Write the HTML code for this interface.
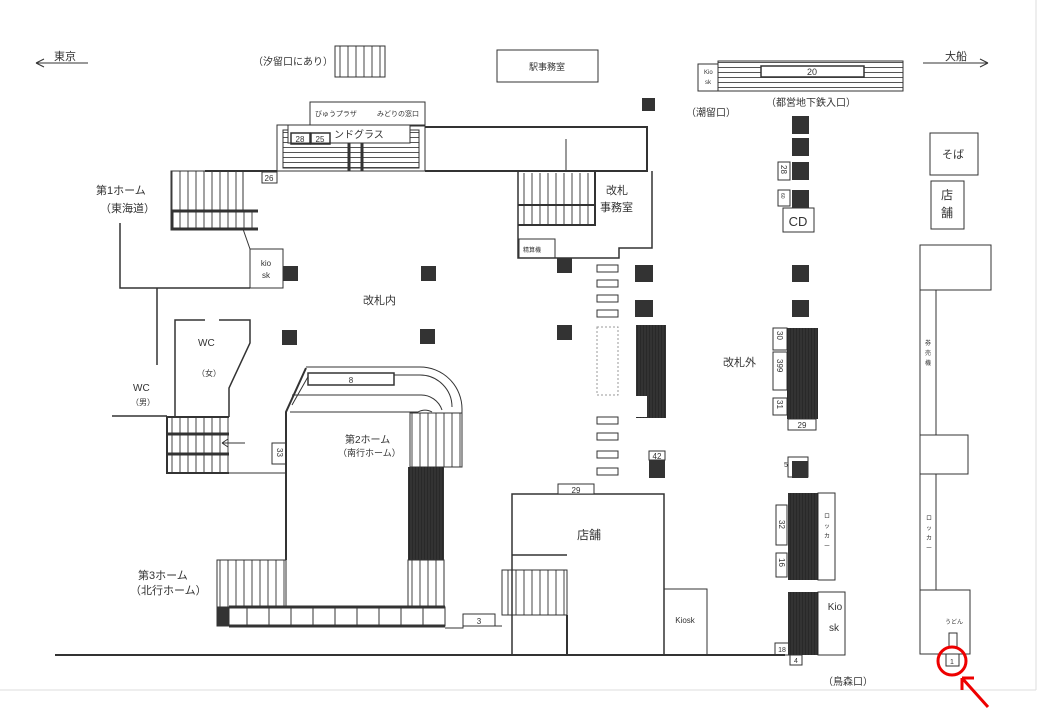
<!DOCTYPE html>
<html><head><meta charset="utf-8"><style>
html,body{margin:0;padding:0;background:#fff}
svg{display:block}
text{font-family:"Liberation Sans","Noto Sans CJK JP",sans-serif;fill:#333}
</style></head><body>
<svg width="1040" height="720" viewBox="0 0 1040 720" xmlns="http://www.w3.org/2000/svg">
<defs>
<pattern id="vl" width="8" height="10" patternUnits="userSpaceOnUse"><line x1="4" y1="0" x2="4" y2="10" stroke="#444" stroke-width="1"/></pattern>
<pattern id="hl" width="10" height="5" patternUnits="userSpaceOnUse"><line x1="0" y1="2.5" x2="10" y2="2.5" stroke="#555" stroke-width="1"/></pattern>
<pattern id="blk" width="3" height="10" patternUnits="userSpaceOnUse"><rect width="3" height="10" fill="#333"/><line x1="1.5" y1="0" x2="1.5" y2="10" stroke="#222" stroke-width="0.6"/></pattern>
</defs>
<rect width="1040" height="720" fill="#fff"/>
<line x1="0" y1="690" x2="1036" y2="690" stroke="#ddd"/>
<line x1="1036" y1="0" x2="1036" y2="690" stroke="#ddd"/>
<g fill="none" stroke="#333" stroke-width="1">
<!-- arrows -->
<path d="M36 63 H88 M36 63 l8 -4 M36 63 l8 4"/>
<path d="M923 63 H988 M988 63 l-8 -4 M988 63 l-8 4"/>
<!-- 汐留 stairs -->
<rect x="335" y="46" width="50" height="31" fill="url(#vl)"/>
<rect x="497" y="50" width="101" height="32"/>
<!-- 都営 -->
<rect x="698" y="64" width="20" height="27"/>
<rect x="718" y="61" width="185" height="30" fill="url(#hl)"/>
<rect x="761" y="66" width="103" height="11" fill="#fff" stroke-width="1.5"/>
<!-- top structure -->
<rect x="310" y="102" width="115" height="24"/>
<path d="M425 127 H647 V171 H425" stroke-width="2"/>
<line x1="566" y1="139" x2="566" y2="171"/>
<rect x="277" y="125" width="148" height="46"/>
<rect x="283" y="130" width="136" height="38" fill="url(#hl)"/>
<rect x="288" y="125" width="122" height="18" fill="#fff"/>
<rect x="291" y="133" width="19" height="11" stroke-width="1.5"/>
<rect x="311" y="133" width="19" height="11" stroke-width="1.5"/>
<path d="M349 143 V171 M362 143 V171" stroke-width="3"/>
<path d="M205 171 H277" stroke-width="2"/>
<rect x="262" y="172" width="15" height="11"/>
<!-- 1 home stairs -->
<rect x="171" y="171" width="72" height="39" fill="url(#vl)"/>
<rect x="172" y="212" width="84" height="16" fill="url(#vl)" stroke="none"/>
<path d="M258 211 H172 V229 H258" stroke-width="3"/>
<path d="M243 229 L250 249"/>
<rect x="250" y="249" width="33" height="39"/>
<path d="M120 223 V288 H250" stroke-width="1.5"/>
<path d="M157 288 V365" stroke-width="1.5"/>
<!-- WC -->
<path d="M175 417 V320 H205 M219 320 H250 V343 L229 388 V417" stroke-width="1.5"/>
<path d="M112 416 H167" stroke-width="1.5"/>
<rect x="168" y="418" width="61" height="55" fill="url(#vl)" stroke="none"/>
<path d="M229 417 H167 V473 H229" stroke-width="2"/>
<path d="M167 434 H229 M167 454 H229" stroke-width="3"/>
<path d="M245 443 H222 M222 443 l6 -4 M222 443 l6 4"/>
<path d="M229 473 H286"/>
<rect x="272" y="443" width="14" height="21"/>
<!-- platform 2 -->
<path d="M286 560 V412 L306 368" stroke-width="2"/>
<path d="M306 367 H420 A42 42 0 0 1 462 409 V467" />
<path d="M292 405 L309 375 H420 A32 32 0 0 1 452 407" />
<path d="M292 395 H420 A22 22 0 0 1 442 410"/>
<path d="M290 412 H418 A14 14 0 0 1 432 412"/>
<rect x="308" y="373" width="86" height="12" fill="#fff" stroke-width="1.5"/>
<rect x="410" y="413" width="52" height="54" fill="url(#vl)"/>
<rect x="408" y="467" width="36" height="93" fill="url(#blk)" stroke="none"/>
<rect x="408" y="560" width="36" height="47" fill="url(#vl)"/>
<!-- platform 3 -->
<rect x="217" y="560" width="69" height="47" fill="url(#vl)"/>
<rect x="217" y="607" width="228" height="19"/>
<rect x="217" y="607" width="12" height="19" fill="#333"/>
<path d="M229 607 H445 M229 626 H445" stroke-width="3"/>
<path d="M247 607V626 M269 607V626 M291 607V626 M313 607V626 M335 607V626 M357 607V626 M379 607V626 M401 607V626 M423 607V626"/>
<path d="M445 628 H463 V614 H495 V626 H502"/>
<line x1="463" y1="626" x2="495" y2="626"/>
<line x1="55" y1="655" x2="785" y2="655" stroke-width="2"/>
<!-- 改札事務室 -->
<rect x="518" y="173" width="77" height="52" fill="url(#vl)" stroke="none"/>
<path d="M518 171 V258 H619 V248 H652 V171" stroke-width="1.5"/>
<path d="M595 171 V225 H518 M518 205 H595" stroke-width="2"/>
<rect x="519" y="239" width="36" height="19"/>
<!-- gates -->
<rect x="597" y="265" width="21" height="7"/><rect x="597" y="280" width="21" height="7"/>
<rect x="597" y="295" width="21" height="7"/><rect x="597" y="310" width="21" height="7"/>
<rect x="597" y="327" width="21" height="68" stroke-dasharray="2,2" stroke="#999"/>
<rect x="597" y="417" width="21" height="7"/><rect x="597" y="433" width="21" height="7"/>
<rect x="597" y="451" width="21" height="7"/><rect x="597" y="468" width="21" height="7"/>
<!-- store -->
<rect x="512" y="494" width="152" height="161" stroke-width="1.5"/>
<rect x="558" y="484" width="36" height="10" fill="#fff"/>
<path d="M512 555 H567" stroke-width="1.5"/>
<rect x="502" y="570" width="65" height="45" fill="url(#vl)"/>
<path d="M567 615 V655" stroke-width="2"/>
<rect x="664" y="589" width="43" height="66"/>
<!-- right col2 -->
<rect x="778" y="162" width="12" height="18"/>
<rect x="778" y="190" width="12" height="16"/>
<rect x="783" y="208" width="31" height="24"/>
<rect x="773" y="328" width="14" height="22"/>
<rect x="773" y="352" width="14" height="38"/>
<rect x="773" y="398" width="14" height="17"/>
<rect x="788" y="419" width="28" height="11"/>
<rect x="788" y="457" width="20" height="20"/>
<rect x="818" y="493" width="17" height="87"/>
<rect x="776" y="505" width="11" height="40"/>
<rect x="776" y="553" width="11" height="24"/>
<rect x="818" y="592" width="27" height="63"/>
<rect x="775" y="643" width="14" height="12"/>
<rect x="790" y="655" width="12" height="10"/>
<path d="M707 655 H790"/>
<!-- far right -->
<rect x="930" y="133" width="48" height="42"/>
<rect x="931" y="181" width="33" height="48"/>
<rect x="920" y="245" width="71" height="45"/>
<path d="M920 290 V590 M936 290 V435 M936 474 V590"/>
<rect x="920" y="435" width="48" height="39"/>
<rect x="920" y="590" width="50" height="64"/>
<rect x="949" y="633" width="8" height="14"/>
<rect x="946" y="654" width="13" height="12"/>
</g>
<!-- black blocks -->
<g fill="#333">
<rect x="642" y="98" width="13" height="13"/>
<rect x="792" y="116" width="17" height="18"/>
<rect x="792" y="138" width="17" height="18"/>
<rect x="792" y="162" width="17" height="18"/>
<rect x="792" y="190" width="17" height="18"/>
<rect x="249" y="266" width="0" height="0"/>
<rect x="283" y="266" width="15" height="15"/><rect x="421" y="266" width="15" height="15"/>
<rect x="282" y="330" width="15" height="15"/><rect x="420" y="329" width="15" height="15"/>
<rect x="557" y="258" width="15" height="15"/><rect x="557" y="325" width="15" height="15"/>
<rect x="635" y="265" width="18" height="17"/><rect x="635" y="300" width="18" height="17"/>
<rect x="636" y="325" width="30" height="93" fill="url(#blk)"/>
<rect x="649" y="460" width="16" height="18"/>
<rect x="792" y="265" width="17" height="17"/><rect x="792" y="300" width="17" height="17"/>
<rect x="787" y="328" width="31" height="91" fill="url(#blk)"/>
<rect x="792" y="461" width="16" height="17"/>
<rect x="788" y="493" width="30" height="87" fill="url(#blk)"/>
<rect x="788" y="592" width="30" height="63" fill="url(#blk)"/>
</g>
<rect x="636" y="396" width="11" height="21" fill="#fff"/>
<rect x="649" y="451" width="16" height="9" fill="#fff" stroke="#333"/>
<!-- red circle -->
<circle cx="952" cy="661" r="14" fill="none" stroke="#e00" stroke-width="3"/>
<path d="M988 707 L962 678 M962 678 v12 M962 678 h12" fill="none" stroke="#e00" stroke-width="3"/>
<!-- texts -->
<g font-size="11">
<text x="54" y="60">東京</text>
<text x="945" y="60">大船</text>
<text x="253" y="65" font-size="10">（汐留口にあり）</text>
<text x="547" y="70" font-size="9" text-anchor="middle">駅事務室</text>
<text x="704" y="74" font-size="6">Kio</text><text x="705" y="84" font-size="6">sk</text>
<text x="812" y="75" font-size="9" text-anchor="middle">20</text>
<text x="686" y="116" font-size="10">（潮留口）</text>
<text x="766" y="106" font-size="10">（都営地下鉄入口）</text>
<text x="315" y="116" font-size="7">びゅうプラザ</text>
<text x="377" y="116" font-size="7">みどりの窓口</text>
<text x="334" y="138" font-size="10">ンドグラス</text>
<text x="300" y="142" font-size="8" text-anchor="middle">28</text>
<text x="320" y="142" font-size="8" text-anchor="middle">25</text>
<text x="269" y="181" font-size="8" text-anchor="middle">26</text>
<text x="96" y="194">第1ホーム</text>
<text x="100" y="212">（東海道）</text>
<text x="266" y="266" font-size="8" text-anchor="middle">kio</text>
<text x="266" y="278" font-size="8" text-anchor="middle">sk</text>
<text x="363" y="304">改札内</text>
<text x="198" y="346" font-size="10">WC</text>
<text x="197" y="376" font-size="8">（女）</text>
<text x="133" y="391" font-size="10">WC</text>
<text x="131" y="405" font-size="8">（男）</text>
<text x="351" y="383" font-size="8" text-anchor="middle">8</text>
<text x="345" y="443" font-size="10">第2ホーム</text>
<text x="338" y="456" font-size="9">（南行ホーム）</text>
<text x="138" y="579">第3ホーム</text>
<text x="130" y="594">（北行ホーム）</text>
<text x="479" y="624" font-size="8" text-anchor="middle">3</text>
<text x="606" y="194">改札</text>
<text x="600" y="211">事務室</text>
<text x="523" y="252" font-size="6">精算機</text>
<text x="576" y="493" font-size="8" text-anchor="middle">29</text>
<text x="577" y="539" font-size="12">店舗</text>
<text x="685" y="623" font-size="8" text-anchor="middle">Kiosk</text>
<text x="657" y="459" font-size="8" text-anchor="middle">42</text>
<text x="723" y="366">改札外</text>
<text x="798" y="226" font-size="13" text-anchor="middle">CD</text>
<text x="802" y="428" font-size="8" text-anchor="middle">29</text>
<text x="953" y="158" text-anchor="middle">そば</text>
<text x="947" y="199" text-anchor="middle" font-size="12">店</text>
<text x="947" y="217" text-anchor="middle" font-size="12">舗</text>
<text x="835" y="610" font-size="10" text-anchor="middle">Kio</text>
<text x="834" y="631" font-size="10" text-anchor="middle">sk</text>
<text x="823" y="685" font-size="10">（鳥森口）</text>
<text x="954" y="624" font-size="6" text-anchor="middle">うどん</text>
<text x="952" y="664" font-size="7" text-anchor="middle">1</text>
<text x="796" y="663" font-size="7" text-anchor="middle">4</text>
<text x="782" y="652" font-size="7" text-anchor="middle">18</text>
<text x="784" y="467" font-size="7">5</text>
<text x="925" y="345" font-size="6">券</text><text x="925" y="355" font-size="6">売</text><text x="925" y="365" font-size="6">機</text>
<text x="926" y="520" font-size="6">ロ</text><text x="926" y="530" font-size="6">ッ</text><text x="926" y="540" font-size="6">カ</text><text x="926" y="550" font-size="6">ー</text>
<text x="824" y="518" font-size="6">ロ</text><text x="824" y="528" font-size="6">ッ</text><text x="824" y="538" font-size="6">カ</text><text x="824" y="548" font-size="6">ー</text>
</g>
<g font-size="8">
<text transform="translate(277,448) rotate(90)">33</text>
<text transform="translate(781,165) rotate(90)">28</text>
<text transform="translate(781,193) rotate(90)" font-size="5">60</text>
<text transform="translate(777,331) rotate(90)">30</text>
<text transform="translate(777,359) rotate(90)">399</text>
<text transform="translate(777,400) rotate(90)">31</text>
<text transform="translate(779,520) rotate(90)">32</text>
<text transform="translate(779,558) rotate(90)">16</text>
</g>
</svg>
</body></html>
